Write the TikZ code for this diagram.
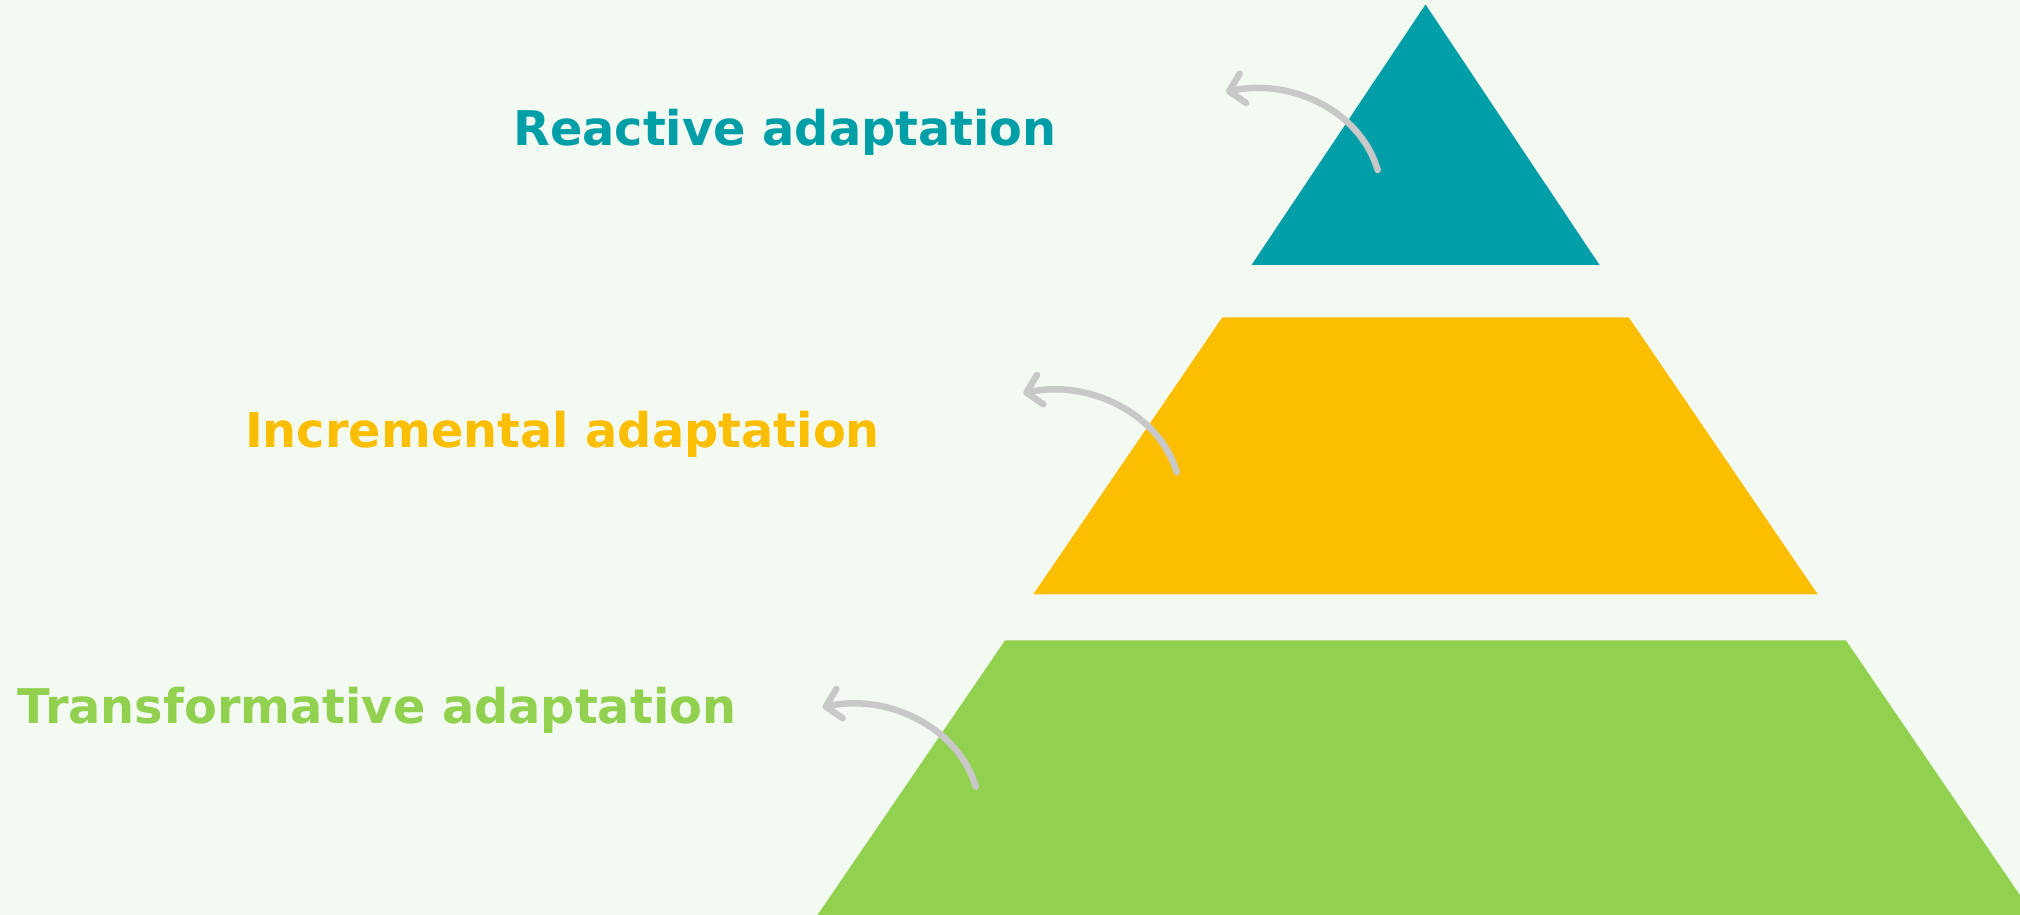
\documentclass[tikz,border=0pt]{standalone}
\usepackage{fontspec}
\setmainfont{DejaVu Sans}
\usepackage{tikz}
\usetikzlibrary{arrows.meta, positioning, calc}
\definecolor{bgcol}{RGB}{243,250,242}
\definecolor{tealcol}{RGB}{0,158,166}
\definecolor{yellowcol}{RGB}{251,190,0}
\definecolor{greencol}{RGB}{146,208,80}
\definecolor{arrowgray}{RGB}{200,200,200}

\begin{document}
\begin{tikzpicture}[>={Straight Barb[length=1.4mm, width=3mm, line cap=round, line join=round]},
    lvltext/.style={font=\fontsize{13.6}{16}\selectfont\bfseries, inner sep=0pt, anchor=base},
    curvy/.style={->, draw=arrowgray, line width=0.65mm, line cap=round}]
      \useasboundingbox (0,0) rectangle (20.2,9.15);
      \clip (0,0) rectangle (20.2,9.15);
      \fill[bgcol] (0,0) rectangle (20.2,9.15);

      \fill[tealcol] (12.515,6.5) -- (14.255,9.105) -- (15.995,6.5) -- cycle;
      \fill[yellowcol] (10.333,3.207) -- (12.223,5.977) -- (16.287,5.977) -- (18.177,3.207) -- cycle;
      \fill[greencol] (8.175,0) -- (10.05,2.745) -- (18.46,2.745) -- (20.335,0) -- cycle;

      \node[lvltext, text=tealcol] (reactive) at (7.85,7.693) {Reactive adaptation};
      \node[lvltext, text=yellowcol] (incremental) at (5.625,4.67) {Incremental adaptation};
      \node[lvltext, text=greencol] (transformative) at (3.77,1.91) {Transformative adaptation};

      \coordinate (t1) at (13.777,7.45);
      \coordinate (h1) at (12.26,8.23);
      \coordinate (t2) at (11.767,4.427);
      \coordinate (h2) at (10.233,5.217);
      \coordinate (t3) at (9.758,1.283);
      \coordinate (h3) at (8.227,2.077);

      \draw[curvy] (t1) .. controls ($(t1)+(-0.177,0.60)$) and ($(h1)+(0.64,0.14)$) .. (h1);
      \draw[curvy] (t2) .. controls ($(t2)+(-0.177,0.60)$) and ($(h2)+(0.64,0.14)$) .. (h2);
      \draw[curvy] (t3) .. controls ($(t3)+(-0.177,0.60)$) and ($(h3)+(0.64,0.14)$) .. (h3);
    \end{tikzpicture}
\end{document}
